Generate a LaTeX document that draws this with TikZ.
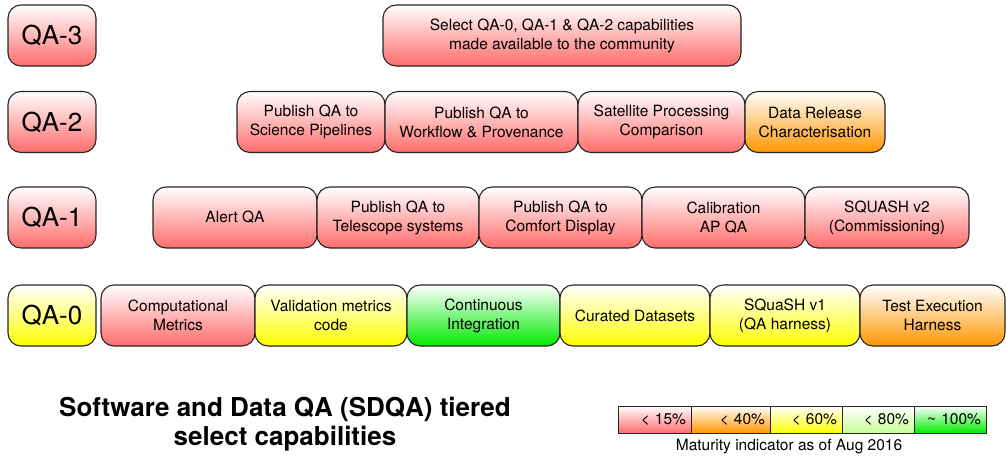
\documentclass[tikz,border=0pt]{standalone}
\usepackage{fontspec}
\setmainfont{TeX Gyre Heros}
\usepackage{tikz}
\usetikzlibrary{positioning}
\definecolor{matred}{RGB}{255,108,108}
\definecolor{matorange}{RGB}{255,150,0}
\definecolor{matyellow}{RGB}{255,255,0}
\definecolor{matlime}{RGB}{200,255,150}
\definecolor{matgreen}{RGB}{0,235,0}
\tikzstyle{capbox}  =
[
	draw=black!85,line width=1.1pt,rounded corners=13pt,outer sep=0pt,
	align=center,inner sep=2pt,minimum height=61pt,
	font=\fontsize{15.5}{19}\selectfont
]
\tikzstyle{tierbox} =
[
	capbox,minimum width=88pt,
	font=\fontsize{26}{30}\selectfont
]
\tikzstyle{legcell} =
[
	draw=black!85,line width=0.9pt,outer sep=0pt,
	align=right,inner xsep=5pt,inner ysep=0pt,minimum height=27pt,
	font=\fontsize{15.5}{19}\selectfont
]
\tikzstyle{redfill}    = [top color=white, bottom color=matred]
\tikzstyle{orangefill} = [top color=white, bottom color=matorange]
\tikzstyle{yellowfill} = [top color=white, bottom color=matyellow]
\tikzstyle{limefill}   = [top color=white, bottom color=matlime]
\tikzstyle{greenfill}  = [top color=white, bottom color=matgreen]

\begin{document}
\begin{tikzpicture}[x=1pt,y=-1pt,node distance=0pt]
\useasboundingbox (0,0) rectangle (1006,459);

% tier labels
\node[tierbox, redfill]    (qa3) at (52,35.5)  {QA-3};
\node[tierbox, redfill]    (qa2) at (52,122)   {QA-2};
\node[tierbox, redfill]    (qa1) at (52,217.5) {QA-1};
\node[tierbox, yellowfill] (qa0) at (52,315.5) {QA-0};

% QA-3
\node[capbox, redfill, minimum width=358pt, anchor=west] (sel) at (383,35.5) {Select QA-0, QA-1 \& QA-2 capabilities\\made available to the community};

% QA-2
\node[capbox, redfill, minimum width=148pt, anchor=west] (pubsci) at (237,122) {Publish QA to\\Science Pipelines};
\node[capbox, redfill, minimum width=193pt] (pubwf) [right=of pubsci] {Publish QA to\\Workflow \& Provenance};
\node[capbox, redfill, minimum width=167pt] (satproc) [right=of pubwf] {Satellite Processing\\Comparison};
\node[capbox, orangefill, minimum width=140pt] (drchar) [right=of satproc] {Data Release\\Characterisation};

% QA-1
\node[capbox, redfill, minimum width=164pt, anchor=west] (alert) at (153,217.5) {Alert QA};
\node[capbox, redfill, minimum width=162pt] (pubtel) [right=of alert] {Publish QA to\\Telescope systems};
\node[capbox, redfill, minimum width=163pt] (pubcomf) [right=of pubtel] {Publish QA to\\Comfort Display};
\node[capbox, redfill, minimum width=163pt] (calib) [right=of pubcomf] {Calibration\\AP QA};
\node[capbox, redfill, minimum width=164pt] (squashb) [right=of calib] {SQUASH v2\\(Commissioning)};

% QA-0
\node[capbox, redfill, minimum width=154pt, anchor=west] (compmet) at (101,315.5) {Computational\\Metrics};
\node[capbox, yellowfill, minimum width=152pt] (valmet) [right=of compmet] {Validation metrics\\code};
\node[capbox, greenfill, minimum width=153pt] (ci) [right=of valmet] {Continuous\\Integration};
\node[capbox, yellowfill, minimum width=150pt] (curated) [right=of ci] {Curated Datasets};
\node[capbox, yellowfill, minimum width=150pt] (squasha) [right=of curated] {SQuaSH v1\\(QA harness)};
\node[capbox, orangefill, minimum width=145pt] (testexec) [right=of squasha] {Test Execution\\Harness};

% title
\node[align=center, font=\bfseries\fontsize{26}{29}\selectfont] (title) at (285,424) {Software and Data QA (SDQA) tiered\\select capabilities};

% maturity legend
\node[legcell, redfill, text width=63pt, anchor=west] (l15) at (618,419.5) {< 15\%};
\node[legcell, orangefill, text width=69pt] (l40) [right=of l15] {< 40\%};
\node[legcell, yellowfill, text width=62pt] (l60) [right=of l40] {< 60\%};
\node[legcell, limefill, text width=62pt] (l80) [right=of l60] {< 80\%};
\node[legcell, greenfill, text width=62pt] (l100) [right=of l80] {\textasciitilde\ 100\%};
\node[font=\fontsize{15.5}{19}\selectfont] (matcap) at (789,447) {Maturity indicator as of Aug 2016};

\end{tikzpicture}
\end{document}
